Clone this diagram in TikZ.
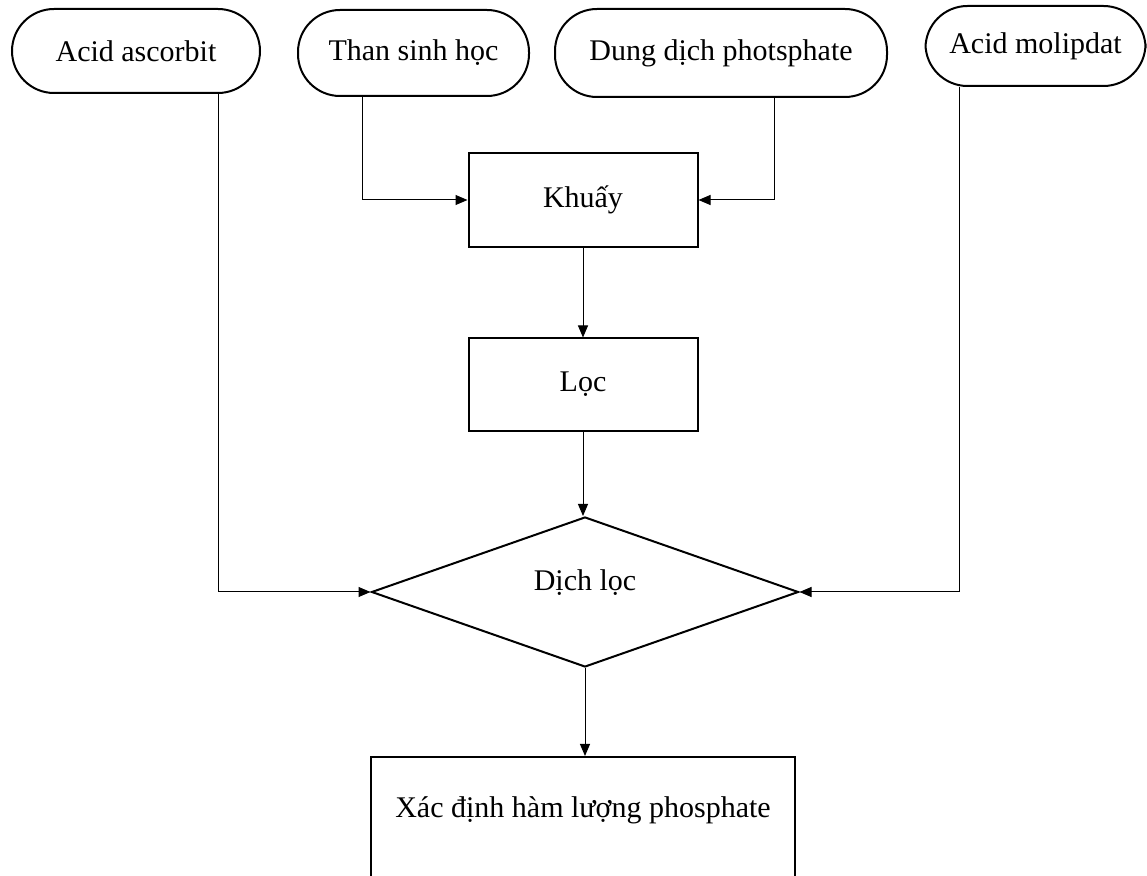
\documentclass[tikz,border=0pt]{standalone}
\usepackage{fontspec}
\setmainfont{Liberation Serif}
\usetikzlibrary{shapes.geometric,arrows.meta,calc}
\begin{document}
\begin{tikzpicture}[x=0.5pt,y=-0.5pt,
  every node/.style={font=\fontsize{15pt}{18pt}\selectfont, inner sep=0pt},
  pill/.style={draw, line width=1pt, rounded corners=21pt},
  stepbox/.style={draw, line width=1pt, rectangle},
  decision/.style={draw, line width=1pt, diamond, minimum width=213.5pt, minimum height=75pt},
  conn/.style={line width=0.5pt, -{Triangle[length=6pt,width=5pt]}},
  plain/.style={line width=0.5pt}]
\useasboundingbox (0,0) rectangle (1147,876);
\clip (0,0) rectangle (1147,876);
\node[pill, minimum width=124pt, minimum height=42pt] (a1) at (136,51) {Acid ascorbit};
\node[pill, minimum width=115.5pt, minimum height=43pt] (a2) at (413.5,53) {Than sinh học};
\node[pill, minimum width=166pt, minimum height=44pt] (a3) at (721,53) {Dung dịch photsphate};
\node[pill, minimum width=110pt, minimum height=40pt] (a4) at (1035.5,46) {Acid molipdat};
\node[stepbox, minimum width=114.5pt, minimum height=47pt] (khuay) at (583,200) {\raisebox{3pt}{Khuấy}};
\node[stepbox, minimum width=114.5pt, minimum height=46.5pt] (loc) at (583,385) {\raisebox{3pt}{Lọc}};
\node[decision] (dich) at (585,592) {};
\node (dichtext) at (585,583) {Dịch lọc};
\node[stepbox, anchor=north, minimum width=212pt, minimum height=80pt] (fin) at (583,756) {};
\node (fintext) at (583,810) {Xác định hàm lượng phosphate};
\draw[conn] ($(a1.south)+(82,0)$) |- (dich.west);
\draw[conn] ($(a2.south)+(-51.5,0)$) |- (khuay.west);
\draw[conn] ($(a3.south)+(53,0)$) |- (khuay.east);
\draw[conn] ($(a4.south)+(-76.5,0)$) |- (dich.east);
\draw[conn] (khuay.south) -- (loc.north);
\draw[conn] (loc.south) -- (loc.south |- dich.north);
\draw[conn] (dich.south) -- (dich.south |- fin.north);
\end{tikzpicture}
\end{document}
